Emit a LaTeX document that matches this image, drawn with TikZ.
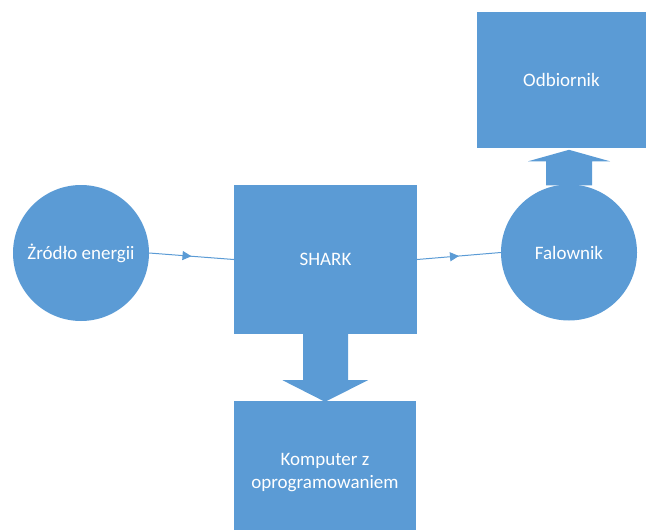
\documentclass[tikz,border=0pt]{standalone}
\usepackage{fontspec}
\setmainfont{Carlito}
\usepackage{xcolor}
\usetikzlibrary{positioning,calc,decorations.markings,arrows.meta}
\definecolor{niebieski}{HTML}{5B9BD5}

\begin{document}
\begin{tikzpicture}[x=1pt,y=-1pt,>=Stealth,font=\fontsize{19}{23}\selectfont,
  blok/.style={fill=niebieski,draw=none,text=white,align=center},
  kolo/.style={blok,circle,minimum size=136pt,inner sep=0pt},
  prost/.style={blok,rectangle,inner sep=0pt},
  polacz/.style={draw=niebieski,line width=1pt,postaction={decorate},
    decoration={markings,mark=at position 0.5 with {\arrow{Triangle[length=9pt,width=9pt]}}}}]
  \useasboundingbox (0,0) rectangle (648,530);
  % bloki
  \node[kolo] (zrodlo) at (81,253) {Żródło energii};
  \node[prost,minimum width=183pt,minimum height=149pt] (shark) at (325.5,259.5) {SHARK};
  \node[prost,minimum width=182pt,minimum height=144pt] (komp) at (325,473) {Komputer z\\oprogramowaniem};
  \node[kolo] (falownik) at (569,252.5) {Falownik};
  \node[prost,minimum width=169pt,minimum height=136pt] (odbiornik) at (561.5,80) {Odbiornik};
  % polaczenia
  \draw[polacz] (zrodlo.east) -- (shark.west);
  \draw[polacz] (shark.east) -- (falownik.west);
  % strzalki blokowe
  \fill[niebieski] ($(shark.south)+(-22.5,0)$) -- ++(45,0) -- ++(0,46) -- ++(20,0)
    -- ($(komp.north)+(0,1)$) -- ($(shark.south)+(-43,46)$) -- ++(20.5,0) -- cycle;
  \fill[niebieski] ($(falownik.north)+(-23,1)$) -- ++(46,0) -- ++(0,-24) -- ++(18,0)
    -- ($(falownik.north)+(0,-34.5)$) -- ($(falownik.north)+(-41,-23)$) -- ++(18,0) -- cycle;
\end{tikzpicture}
\end{document}
